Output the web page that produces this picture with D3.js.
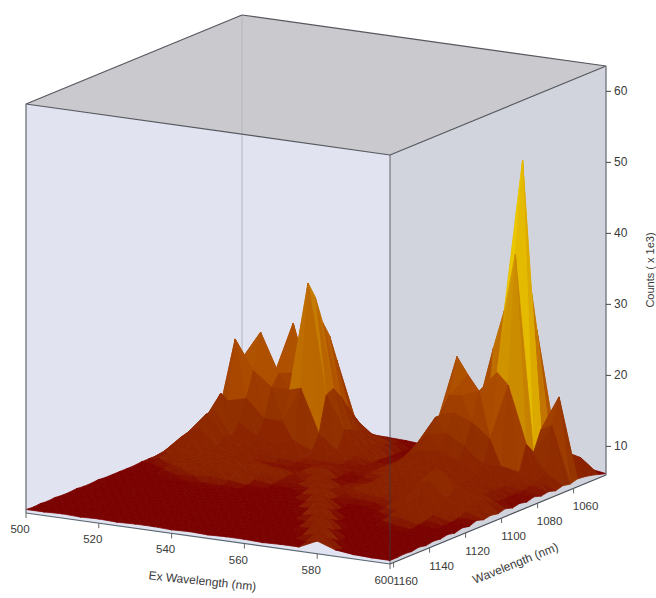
<!DOCTYPE html>
<html>
<head>
<meta charset="utf-8">
<script src="https://d3js.org/d3.v7.min.js"></script>
<style>
  body { margin: 0; background: #fff; }
  text { font-family: "Liberation Sans", Arial, sans-serif; fill: #3a3a3a; }
</style>
</head>
<body>
<div id="chart"></div>
<script>
// Axis values
const exTicks = [500, 520, 540, 560, 580, 600];
const emTicks = [1160, 1140, 1120, 1100, 1080, 1060];
const zTicks = [10, 20, 30, 40, 50, 60];

// Grid of the surface
const exValues = [500, 505, 510, 515, 520, 525, 530, 535, 540, 545, 550, 555, 560, 565, 570, 575, 580, 585, 590, 595, 600];
const emValues = [1162, 1158, 1154, 1150, 1146, 1142, 1138, 1134, 1130, 1126, 1122, 1118, 1114, 1110, 1106, 1102, 1098, 1094, 1090, 1086, 1082, 1078, 1074, 1070, 1066, 1062, 1058, 1054, 1050, 1046, 1042];

// Counts (x 1e3), one row per emission wavelength, one column per excitation wavelength
const counts = [
  [6.4,6.4,6.5,6.4,6.5,6.4,6.5,6.5,6.4,6.5,6.4,6.5,6.5,6.4,6.5,6.5,7.7,6.8,6.5,6.4,6.4],
  [6.3,6.4,6.4,6.5,6.4,6.5,6.4,6.5,6.5,6.4,6.5,6.4,6.5,6.5,6.5,6.8,7.7,6.5,6.5,6.5,6.4],
  [6.4,6.3,6.4,6.4,6.5,6.4,6.5,6.4,6.5,6.5,6.4,6.5,6.4,6.5,6.5,7.4,7.1,6.5,6.5,6.5,6.5],
  [6.3,6.4,6.4,6.5,6.4,6.5,6.5,6.5,6.4,6.5,6.5,6.4,6.5,6.5,6.5,8,6.5,6.5,6.5,6.5,6.4],
  [6.4,6.3,6.5,6.4,6.5,6.5,6.5,6.4,6.5,6.5,6.4,6.5,6.5,6.5,7.1,7.4,6.5,6.5,6.5,6.5,6.6],
  [6.3,6.4,6.4,6.5,6.5,6.5,6.6,6.5,6.5,6.4,6.5,6.5,6.5,6.5,7.7,6.8,6.5,6.5,6.5,6.5,6.4],
  [6.3,6.4,6.5,6.5,6.5,6.6,6.5,6.6,6.5,6.5,6.5,6.5,6.5,6.8,7.7,6.5,6.5,6.6,6.6,6.6,6.6],
  [6.4,6.3,6.5,6.5,6.6,6.5,6.6,6.6,6.5,6.5,6.5,6.5,6.5,7.4,7.1,6.5,6.6,6.8,6.7,6.6,6.5],
  [6.3,6.4,6.4,6.6,6.5,6.6,6.6,6.5,6.6,6.5,6.5,6.5,6.5,8,6.5,6.5,6.7,7,6.7,6.6,6.7],
  [6.3,6.3,6.5,6.5,6.6,6.7,6.6,6.6,6.5,6.6,6.5,6.5,7.1,7.4,6.5,6.6,6.8,7.5,6.9,6.7,6.5],
  [6.4,6.4,6.5,6.6,6.6,6.7,6.7,6.6,6.6,6.6,6.5,6.5,7.7,6.8,6.6,6.7,7,8,7.1,6.7,6.8],
  [6.3,6.3,6.5,6.6,6.7,6.8,6.8,6.7,6.6,6.6,6.5,6.8,7.7,6.6,6.6,6.9,7.4,9,7.4,6.8,6.6],
  [6.3,6.4,6.6,6.7,6.8,6.9,6.9,6.8,6.7,6.6,6.6,7.4,7.1,6.8,6.8,7,8,10,7.8,7,7],
  [6.3,6.4,6.7,7,7.2,7.4,7.2,6.9,6.8,6.7,6.7,8,7,7.1,7,7.4,9,11,9,7.4,6.7],
  [6.3,6.5,6.9,7.4,7.8,8,7.8,7.2,6.9,6.8,7.1,7.4,7.2,7.4,7.2,7.5,10,12.5,10,7.8,6.9],
  [6.3,6.9,7.2,7.8,8.3,8.6,8.2,7.6,7.1,6.9,7.7,7,7.4,7.6,7.4,7.6,10.5,11.5,9.5,8,6.7],
  [6.4,7.2,7.6,8.1,8.6,8.9,8.4,7.8,7.2,6.9,7.7,6.9,7.4,7.7,7.6,7.8,10,10,8.6,7.6,7],
  [6.4,7.6,8.3,8.4,8.4,8.4,8.2,7.6,7.2,7.4,7.1,6.9,7.2,7.6,7.8,8,9,9,8,7.2,6.7],
  [6.4,8.2,9.2,8.4,7.6,7.3,7.2,7.1,7.1,8,6.9,6.8,7.2,7.6,8,7.6,7.6,7.8,7.4,7,6.9],
  [6.5,9,10.5,8.5,7.6,7.2,7.1,7,7.1,7.4,7,7,7.4,8,8.6,8,7.6,7.6,7.4,7,6.7],
  [6.5,9.3,12.2,9.5,8,7.6,7.4,7.2,7.2,7.3,7,7.2,7.6,8.4,8.8,8,7.5,7.4,7.3,7,7],
  [6.5,9.5,12.3,9,8,7.6,7.6,7.4,7.2,7.2,7.1,7.2,8,9,9.5,8.5,7.6,7.6,7.4,7.1,6.7],
  [6.6,9.8,14.3,10.5,9,8.5,9,8,7.6,7.3,7,7.2,8.5,10,10.5,9.5,8,8,7.6,7.4,6.9],
  [6.6,9.6,12.8,13.5,11,11,16,10,8,7.5,7,7,9,12,12.5,11,9,9,8.5,7.6,6.6],
  [6.7,9,21.1,17,15,15,30.4,15,10.5,7.8,7,7,10,14,15,14,12,20,12,8.5,6.9],
  [6.7,8.5,18,22,16.5,17,28,15.5,10,7.8,6.9,6.9,10.5,14,17,18,21,38,10.5,14.6,6.7],
  [6.7,8,14,16.9,13.8,17,24.1,14,9.5,7.6,6.9,6.8,10.3,16.3,19.5,12,29.3,50.8,13.2,18.2,7],
  [6.6,7.5,11,15.5,22.8,14,21.7,12,9,7.4,6.8,6.8,12.4,21.3,13,23.2,17,33.5,13.4,11,6.9],
  [6.6,7.2,9,13,13,12,17.9,10,8,7.2,6.8,6.8,9,12,12,12,14,26,11,8.2,6.7],
  [6.5,6.9,8,10,10,9,11.8,8,7.3,7,6.7,6.7,7.5,8.5,8.5,9,11,16.5,9,8.4,6.4],
  [6.4,6.6,7,7.5,7.3,7.3,8.9,7,6.9,6.8,6.6,6.6,6.8,7.2,7.4,7.6,8,11.9,7.5,6.5,6.1]
];

// Colours along the counts value
const colorStops = [6.8, 7.5, 10, 13, 18, 24, 30, 38, 48];
const colorValues = ['#7a0200', '#8a2200', '#8c2400', '#923000', '#a84600', '#bc6800', '#cc8c00', '#dfb000', '#f0d400'];

const width = 656;
const height = 598;

const svg = d3.select('#chart')
  .append('svg')
  .attr('width', width)
  .attr('height', height);

// Scales of the box: each axis gives a share of its box edge
const exScale = d3.scaleLinear().domain([500, 600]).range([0, 1]);
const emScale = d3.scaleLinear().domain([1162, 1042]).range([0, 1]);
const zScale = d3.scaleLinear().domain([5.9, 63.5]).range([0, 409]);
const color = d3.scaleLinear().domain(colorStops).range(colorValues).clamp(true);

// Box projection: front-left floor corner and the two floor edges
const project = (ex, em, z) => {
  const t = exScale(ex);
  const u = emScale(em);
  return [26 + 364 * t + 216 * u, 513 + 51 * t - 89 * u - zScale(z)];
};

const zMin = zScale.domain()[0];
const zMax = zScale.domain()[1];
const corner = (ex, em, z) => project(ex, em, z).join(',');

// Panes
const panes = svg.append('g');
panes.append('polygon') // top
  .attr('points', [corner(500, 1162, zMax), corner(500, 1042, zMax), corner(600, 1042, zMax), corner(600, 1162, zMax)].join(' '))
  .attr('fill', '#c9c9ce');
panes.append('polygon') // left
  .attr('points', [corner(500, 1162, zMax), corner(600, 1162, zMax), corner(600, 1162, zMin), corner(500, 1162, zMin)].join(' '))
  .attr('fill', '#e2e3f1');
panes.append('polygon') // right
  .attr('points', [corner(600, 1162, zMax), corner(600, 1042, zMax), corner(600, 1042, zMin), corner(600, 1162, zMin)].join(' '))
  .attr('fill', '#d1d3dd');

const line = (g, a, b, stroke, w) => g.append('line')
  .attr('x1', a[0]).attr('y1', a[1])
  .attr('x2', b[0]).attr('y2', b[1])
  .attr('stroke', stroke)
  .attr('stroke-width', w);

// Faint back edge
line(panes, project(500, 1042, zMax), project(500, 1042, zMin), '#b4b5bf', 1);

// Surface, far cells first
const surface = svg.append('g');
const facet = (cells) => {
  const vals = cells.map(c => counts[c[1]][c[0]]);
  const c = color(0.45 * d3.max(vals) + 0.55 * d3.mean(vals));
  surface.append('polygon')
    .attr('points', cells.map(k => corner(exValues[k[0]], emValues[k[1]], counts[k[1]][k[0]])).join(' '))
    .attr('fill', c)
    .attr('stroke', c)
    .attr('stroke-width', 0.8);
};
for (let j = emValues.length - 2; j >= 0; j--) {
  for (let i = 0; i < exValues.length - 1; i++) {
    facet([[i + 1, j], [i + 1, j + 1], [i, j + 1]]);
    facet([[i, j], [i + 1, j], [i, j + 1]]);
  }
}

// Box edges
const edges = svg.append('g');
const dark = '#55585e';
line(edges, project(500, 1162, zMax), project(600, 1162, zMax), dark, 1.2);
line(edges, project(600, 1162, zMax), project(600, 1042, zMax), dark, 1.2);
line(edges, project(600, 1042, zMax), project(500, 1042, zMax), dark, 1.2);
line(edges, project(500, 1042, zMax), project(500, 1162, zMax), dark, 1.2);
line(edges, project(500, 1162, zMax), project(500, 1162, zMin), '#777a80', 1.4);
line(edges, project(600, 1042, zMax), project(600, 1042, zMin), '#777a80', 1.4);
line(edges, project(600, 1162, zMax), project(600, 1162, zMin), '#3c3c40', 1).attr('stroke-opacity', 0.75);
line(edges, project(500, 1162, zMin), project(600, 1162, zMin), '#5a6870', 1.2);
line(edges, project(600, 1162, zMin), project(600, 1042, zMin), '#4a5058', 1.2);

// Ex axis ticks and labels
const labels = svg.append('g').attr('font-size', 11.5);
exTicks.forEach(d => {
  const p = project(d, 1162, zMin);
  line(edges, p, [p[0], p[1] + 5], '#666', 1);
  labels.append('text')
    .attr('x', p[0] - 6)
    .attr('y', p[1] + 20)
    .attr('text-anchor', 'middle')
    .text(d);
});

// Wavelength axis ticks and labels
emTicks.forEach(d => {
  const p = project(600, d, zMin);
  line(edges, p, [p[0], p[1] + 5], '#666', 1);
  labels.append('text')
    .attr('x', p[0] + 12)
    .attr('y', p[1] + 22)
    .attr('text-anchor', 'middle')
    .text(d);
});

// Counts axis, on the right edge of the box
const zAxisScale = d3.scaleLinear()
  .domain(zScale.domain())
  .range([project(600, 1042, zMin)[1], project(600, 1042, zMax)[1]]);
const zAxis = svg.append('g')
  .attr('transform', `translate(${project(600, 1042, zMin)[0]},0)`)
  .call(d3.axisRight(zAxisScale).tickValues(zTicks).tickSize(5).tickPadding(3).tickSizeOuter(0));
zAxis.select('.domain').remove();
zAxis.selectAll('line').attr('stroke', '#444');
zAxis.selectAll('text').attr('font-size', 12).attr('font-family', '"Liberation Sans", Arial, sans-serif').attr('fill', '#3a3a3a');

// Axis titles
const title = (x, y, angle, size, text) => svg.append('text')
  .attr('transform', `translate(${x},${y}) rotate(${angle})`)
  .attr('text-anchor', 'middle')
  .attr('font-size', size)
  .text(text);

title(202, 585, 6, 12, 'Ex Wavelength (nm)');
title(517, 567, -22, 12, 'Wavelength (nm)');
title(654, 270, -90, 11, 'Counts ( x 1e3)');
</script>
</body>
</html>
